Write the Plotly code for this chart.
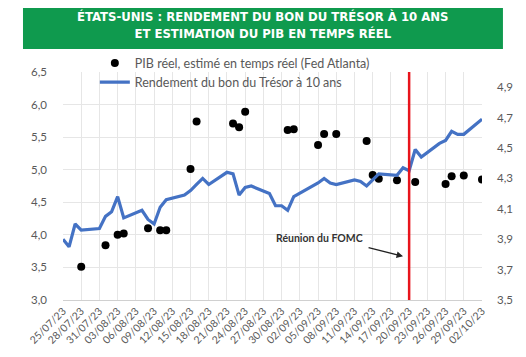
import plotly.graph_objects as go
import pandas as pd

# 10-year Treasury yield (right axis, %)
yield_dates = ["2023-07-25","2023-07-26","2023-07-27","2023-07-28","2023-07-31",
               "2023-08-01","2023-08-02","2023-08-03","2023-08-04","2023-08-07",
               "2023-08-08","2023-08-09","2023-08-10","2023-08-11","2023-08-14",
               "2023-08-15","2023-08-16","2023-08-17","2023-08-18","2023-08-21",
               "2023-08-22","2023-08-23","2023-08-24","2023-08-25","2023-08-28",
               "2023-08-29","2023-08-30","2023-08-31","2023-09-01","2023-09-05",
               "2023-09-06","2023-09-07","2023-09-08","2023-09-11","2023-09-12",
               "2023-09-13","2023-09-14","2023-09-15","2023-09-18","2023-09-19",
               "2023-09-20","2023-09-21","2023-09-22","2023-09-25","2023-09-26",
               "2023-09-27","2023-09-28","2023-09-29","2023-10-02"]
yield_values = [3.90, 3.85, 4.00, 3.96, 3.97,
                4.05, 4.08, 4.18, 4.04, 4.09,
                4.03, 4.00, 4.11, 4.16, 4.19,
                4.22, 4.26, 4.30, 4.26, 4.34,
                4.33, 4.19, 4.24, 4.25, 4.20,
                4.12, 4.12, 4.09, 4.18, 4.27,
                4.30, 4.27, 4.26, 4.29, 4.28,
                4.25, 4.29, 4.33, 4.32, 4.37,
                4.35, 4.49, 4.44, 4.53, 4.55,
                4.61, 4.59, 4.59, 4.69]

# GDPNow real GDP estimate (left axis, %)
gdp_dates = ["2023-07-28","2023-08-01","2023-08-03","2023-08-04","2023-08-08",
             "2023-08-10","2023-08-11","2023-08-15","2023-08-16","2023-08-22",
             "2023-08-23","2023-08-24","2023-08-31","2023-09-01","2023-09-05",
             "2023-09-06","2023-09-08","2023-09-13","2023-09-14","2023-09-15",
             "2023-09-18","2023-09-21","2023-09-26","2023-09-27","2023-09-29",
             "2023-10-02"]
gdp_values = [3.51, 3.84, 4.00, 4.02, 4.10,
              4.07, 4.07, 5.01, 5.74, 5.71,
              5.65, 5.89, 5.61, 5.62, 5.38,
              5.55, 5.55, 5.44, 4.92, 4.86,
              4.84, 4.81, 4.78, 4.90, 4.91,
              4.85]

tick_dates = pd.date_range("2023-07-25", "2023-10-02", freq="3D")
tick_labels = [d.strftime("%d/%m/%y") for d in tick_dates]

fomc_date = "2023-09-20"

title_lines = ["ÉTATS-UNIS : RENDEMENT DU BON DU TRÉSOR À 10 ANS",
               "ET ESTIMATION DU PIB EN TEMPS RÉEL"]
name_gdp = "PIB réel, estimé en temps réel (Fed Atlanta)"
name_yield = "Rendement du bon du Trésor à 10 ans"

FONT = "Lato, 'Open Sans', sans-serif"
GRAY = "#595959"

fig = go.Figure()
fig.add_trace(go.Scatter(x=gdp_dates, y=gdp_values, mode="markers", name=name_gdp,
                         marker=dict(color="black", size=8), yaxis="y"))
fig.add_trace(go.Scatter(x=yield_dates, y=yield_values, mode="lines", name=name_yield,
                         line=dict(color="#4472C4", width=3.2), yaxis="y2"))

fig.update_layout(
    width=518, height=349,
    margin=dict(l=55, r=44, t=64, b=57),
    paper_bgcolor="white", plot_bgcolor="white",
    separators=", ",
    font=dict(family=FONT, color=GRAY, size=11),
    showlegend=True,
    legend=dict(x=0.076, y=1.104, xanchor="left", yanchor="top",
                bgcolor="rgba(0,0,0,0)", font=dict(size=12.5, color=GRAY),
                tracegroupgap=0, itemwidth=30),
    xaxis=dict(type="date", range=["2023-07-25", "2023-10-02"],
               tickvals=list(tick_dates), ticktext=tick_labels, tickangle=-45,
               showgrid=True, gridcolor="#e6e6e6", gridwidth=1,
               showline=True, linecolor="#d0d0d0", ticks="",
               tickfont=dict(size=10.5, color=GRAY), zeroline=False),
    yaxis=dict(range=[3.0, 6.5], dtick=0.5, tick0=3.0, tickformat=".1f",
               showgrid=True, gridcolor="#e6e6e6", zeroline=False,
               ticks="", ticklabelstandoff=15,
               tickfont=dict(size=11.5, color=GRAY)),
    yaxis2=dict(range=[3.5, 5.0], tickvals=[3.5, 3.7, 3.9, 4.1, 4.3, 4.5, 4.7, 4.9],
                tickformat=".1f", overlaying="y", side="right", showgrid=False,
                zeroline=False, ticks="", ticklabelstandoff=14,
                tickfont=dict(size=11.5, color=GRAY)),
)

# Title banner
fig.add_shape(type="rect", xref="paper", yref="paper",
              x0=-0.0955, x1=1.050, y0=1.101, y1=1.311,
              fillcolor="#0f9a4e", line=dict(width=0), layer="above")
fig.add_annotation(xref="paper", yref="paper", x=0.477, y=1.206,
                   text="<b>" + "<br>".join(title_lines) + "</b>", showarrow=False,
                   font=dict(family="'DejaVu Sans Condensed', 'Liberation Sans Narrow', sans-serif",
                             size=13, color="white"),
                   align="center", xanchor="center", yanchor="middle")

# FOMC vertical line
fig.add_shape(type="line", xref="x", yref="paper", x0=fomc_date, x1=fomc_date,
              y0=0, y1=1, line=dict(color="#e8141c", width=2.5))

# FOMC annotation
fig.add_annotation(x="2023-09-05 07:00", y=3.95, xref="x", yref="y",
                   text="<b>Réunion du FOMC</b>", showarrow=False,
                   font=dict(size=10.5, color="#333333"))
fig.add_annotation(x="2023-09-19 00:00", y=3.67, xref="x", yref="y",
                   ax=-36, ay=-9, axref="pixel", ayref="pixel",
                   text="", showarrow=True, arrowhead=2, arrowsize=1,
                   arrowwidth=1.3, arrowcolor="#222222")

fig.write_html("out.html")
